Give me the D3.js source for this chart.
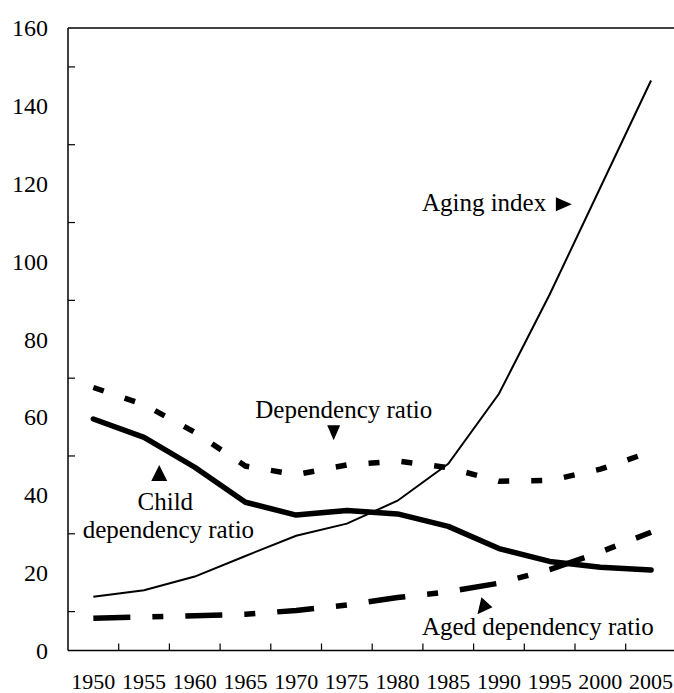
<!DOCTYPE html>
<html>
<head>
<meta charset="utf-8">
<script src="https://cdn.jsdelivr.net/npm/d3@7/dist/d3.min.js"></script>
<style>
  html, body { margin: 0; padding: 0; background: #fff; }
  svg { display: block; }
</style>
</head>
<body>
<svg id="chart" width="674" height="693"></svg>
<script>
// ---- data ----
const years = ["1950","1955","1960","1965","1970","1975","1980","1985","1990","1995","2000","2005"];
const agingIndex      = [13.8, 15.5, 19.0, 24.3, 29.5, 32.6, 38.5, 48.0, 66.0, 91.5, 119.0, 146.5];
const childRatio      = [59.5, 54.8, 47.1, 38.1, 34.8, 36.0, 35.1, 31.9, 26.2, 22.9, 21.4, 20.7];
const agedRatio       = [8.3, 8.6, 8.9, 9.3, 10.3, 11.7, 13.6, 15.1, 17.3, 20.8, 25.3, 30.4];
const dependencyRatio = [67.6, 63.2, 56.1, 47.4, 45.2, 47.7, 48.7, 47.0, 43.5, 43.7, 46.6, 51.1];
const yTickLabels = [0, 20, 40, 60, 80, 100, 120, 140, 160];
const yMinorTicks = [10, 30, 50, 70, 90, 110, 130, 150];

// annotations: [text, year, value, anchor]
const annotations = [
  ["Aging index", 1982.4, 113.0, "start"],
  ["Dependency ratio", 1974.7, 59.7, "middle"],
  ["Child", 1957.1, 36.1, "middle"],
  ["dependency ratio", 1957.4, 28.9, "middle"],
  ["Aged dependency ratio", 1982.4, 4.0, "start"]
];
// triangles: [year, value, direction]
const markers = [
  [1996.4, 114.7, "right"],
  [1973.7, 56.0, "down"],
  [1956.5, 45.6, "up"],
  [1988.5, 11.4, "tilt"]
];

const FONT = "'Liberation Serif', 'Times New Roman', serif";

// ---- layout ----
const svg = d3.select("#chart");
const mLeft = 68, mTop = 28, mBottom = 650.5, mRight = 676.4;

const x = d3.scaleBand().domain(years).range([mLeft, mRight]).padding(0);
const y = d3.scaleLinear().domain([0, 160]).range([mBottom, mTop]);
const xc = d => x(d) + x.bandwidth() / 2;
const xYear = d3.scaleLinear().domain([1950, 2005]).range([xc("1950"), xc("2005")]);

// frame
svg.append("line").attr("x1", mLeft).attr("x2", 674).attr("y1", mTop).attr("y2", mTop)
  .attr("stroke", "#000").attr("stroke-width", 1.5);
svg.append("line").attr("x1", mLeft).attr("x2", 674).attr("y1", mBottom).attr("y2", mBottom)
  .attr("stroke", "#000").attr("stroke-width", 1.5);
svg.append("line").attr("x1", mLeft).attr("x2", mLeft).attr("y1", mTop).attr("y2", mBottom)
  .attr("stroke", "#000").attr("stroke-width", 1.5);

// y minor ticks (inside)
svg.append("g").selectAll("line").data(yMinorTicks).join("line")
  .attr("x1", mLeft).attr("x2", mLeft + 7)
  .attr("y1", d => y(d)).attr("y2", d => y(d))
  .attr("stroke", "#000").attr("stroke-width", 1.2);

// y labels
svg.append("g").selectAll("text").data(yTickLabels).join("text")
  .attr("x", 48).attr("y", d => y(d)).attr("dy", "0.35em")
  .attr("text-anchor", "end").style("font-family", FONT).style("font-size", "24px")
  .attr("fill", "#000")
  .text(d => d);

// x ticks at band boundaries (inside)
svg.append("g").selectAll("line").data(years.slice(1)).join("line")
  .attr("x1", d => x(d)).attr("x2", d => x(d))
  .attr("y1", mBottom).attr("y2", mBottom - 7)
  .attr("stroke", "#000").attr("stroke-width", 1.2);

// x labels
svg.append("g").selectAll("text").data(years).join("text")
  .attr("x", d => xc(d)).attr("y", 689)
  .attr("text-anchor", "middle").style("font-family", FONT).style("font-size", "22px")
  .attr("fill", "#000")
  .text(d => d);

// ---- lines ----
const line = d3.line().x((d, i) => xc(years[i])).y(d => y(d));

svg.append("path").datum(agingIndex).attr("d", line)
  .attr("fill", "none").attr("stroke", "#000").attr("stroke-width", 2);

svg.append("path").datum(childRatio).attr("d", line)
  .attr("fill", "none").attr("stroke", "#000").attr("stroke-width", 5.5)
  .attr("stroke-linejoin", "round").attr("stroke-linecap", "round");

svg.append("path").datum(dependencyRatio).attr("d", line)
  .attr("fill", "none").attr("stroke", "#000").attr("stroke-width", 5.5)
  .attr("stroke-dasharray", "11,22");

svg.append("path").datum(agedRatio).attr("d", line)
  .attr("fill", "none").attr("stroke", "#000").attr("stroke-width", 5.5)
  .attr("stroke-dasharray", "37,22,11,22");

// ---- annotations ----
svg.append("g").selectAll("text").data(annotations).join("text")
  .attr("x", d => xYear(d[1])).attr("y", d => y(d[2]))
  .attr("text-anchor", d => d[3]).style("font-family", FONT).style("font-size", "25px")
  .attr("fill", "#000")
  .text(d => d[0]);

const triPath = dir => {
  if (dir === "right") return "M-8,-7L8,0L-8,7Z";
  if (dir === "down") return "M-6.5,-7.5L6.5,-7.5L0,7.5Z";
  if (dir === "up") return "M-8,8L8,8L0,-8Z";
  return "M-2.3,-9L8.7,1L-6.3,8Z";
};
svg.append("g").selectAll("path").data(markers).join("path")
  .attr("transform", d => `translate(${xYear(d[0])},${y(d[1])})`)
  .attr("d", d => triPath(d[2]))
  .attr("fill", "#000");
</script>
</body>
</html>
